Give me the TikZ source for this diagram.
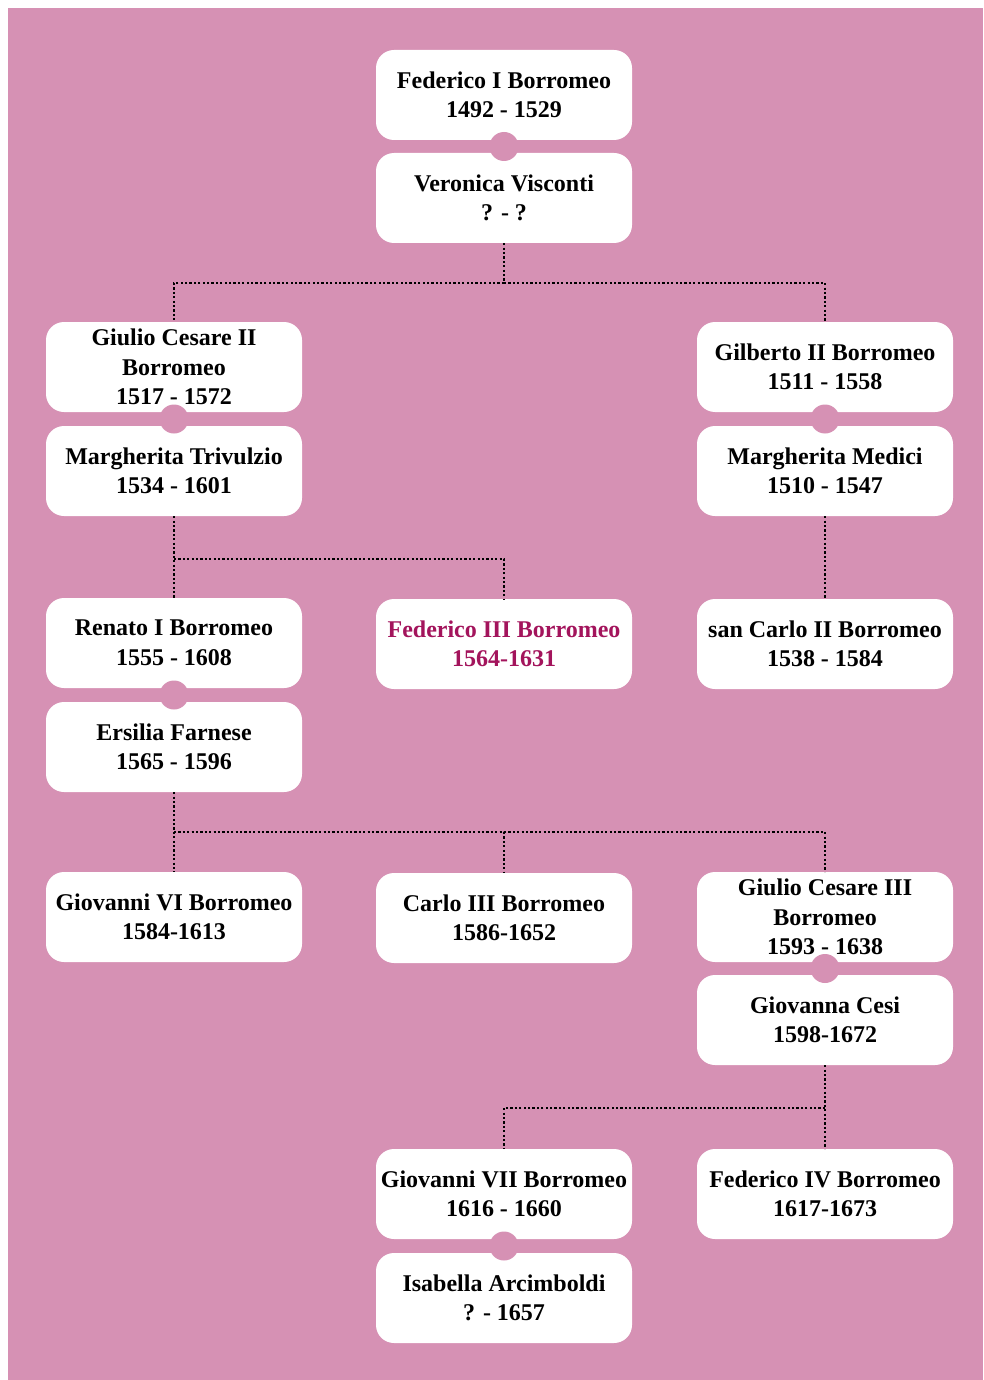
\documentclass[tikz,border=0pt]{standalone}
\usepackage{fontspec}
\setmainfont{Liberation Serif}
\usepackage{tikz}
\usetikzlibrary{positioning, calc}
\definecolor{rosa}{RGB}{214,145,180}
\definecolor{porpora}{RGB}{163,20,92}
\tikzset{
    persona/.style={fill=white, rounded corners=18pt, minimum width=256pt, minimum height=90pt, inner sep=2pt, align=center, font=\fontsize{24}{29.5}\selectfont\bfseries},
    giunto/.style={circle, fill=rosa, minimum size=29pt, inner sep=0pt},
    linea/.style={line width=2.2pt, dash pattern=on 2.2pt off 2.2pt},
}

\begin{document}
\begin{tikzpicture}[x=1pt, y=-1pt]
        % Sfondo
        \useasboundingbox (0,0) rectangle (983,1380);
        \fill[white] (0,0) rectangle (983,1380);
        \fill[rosa] (8,8) rectangle (983,1380);
        % Prima generazione
        \node[persona] (fed1) at (504,95)  {Federico I Borromeo\\1492 - 1529};
        \node[persona] (vero) at (504,198) {Veronica Visconti\\? - ?};
        % Seconda generazione
        \node[persona] (gc2)   at (174,367) {Giulio Cesare II\\Borromeo\\1517 - 1572};
        \node[persona] (mtriv) at (174,471) {Margherita Trivulzio\\1534 - 1601};
        \node[persona] (gilb)  at (825,367) {Gilberto II Borromeo\\1511 - 1558};
        \node[persona] (mmed)  at (825,471) {Margherita Medici\\1510 - 1547};
        % Terza generazione
        \node[persona] (ren)   at (174,643) {Renato I Borromeo\\1555 - 1608};
        \node[persona] (ers)   at (174,747) {Ersilia Farnese\\1565 - 1596};
        \node[persona, text=porpora] (fed3) at (504,644) {Federico III Borromeo\\1564-1631};
        \node[persona] (carlo) at (825,644) {san Carlo II Borromeo\\1538 - 1584};
        % Quarta generazione
        \node[persona] (giov6)  at (174,917)  {Giovanni VI Borromeo\\1584-1613};
        \node[persona] (carlo3) at (504,918)  {Carlo III Borromeo\\1586-1652};
        \node[persona] (gc3)    at (825,917)  {Giulio Cesare III\\Borromeo\\1593 - 1638};
        \node[persona] (gcesi)  at (825,1020) {Giovanna Cesi\\1598-1672};
        % Quinta generazione
        \node[persona] (giov7) at (504,1194) {Giovanni VII Borromeo\\1616 - 1660};
        \node[persona] (isab)  at (504,1298) {Isabella Arcimboldi\\? - 1657};
        \node[persona] (fed4)  at (825,1194) {Federico IV Borromeo\\1617-1673};
        % Matrimoni
        \path (fed1) -- (vero) node[midway, giunto] {};
        \path (gc2) -- (mtriv) node[midway, giunto] {};
        \path (gilb) -- (mmed) node[midway, giunto] {};
        \path (ren) -- (ers) node[midway, giunto] {};
        \path (gc3) -- (gcesi) node[midway, giunto] {};
        \path (giov7) -- (isab) node[midway, giunto] {};
        % Discendenza
        \coordinate (b1) at (504,283);
        \coordinate (b2) at (174,559);
        \coordinate (b3) at (174,832);
        \coordinate (b4) at (825,1108);
        \draw[linea] (vero.south) -- (b1); \draw[linea] (b1) -| (gc2.north); \draw[linea] (b1) -| (gilb.north);
        \draw[linea] (mtriv.south) -- (ren.north); \draw[linea] (b2) -| (fed3.north);
        \draw[linea] (mmed.south) -- (carlo.north);
        \draw[linea] (ers.south) -- (giov6.north); \draw[linea] (b3) -| (carlo3.north); \draw[linea] (b3) -| (gc3.north);
        \draw[linea] (gcesi.south) -- (fed4.north); \draw[linea] (b4) -| (giov7.north);
    \end{tikzpicture}
\end{document}
